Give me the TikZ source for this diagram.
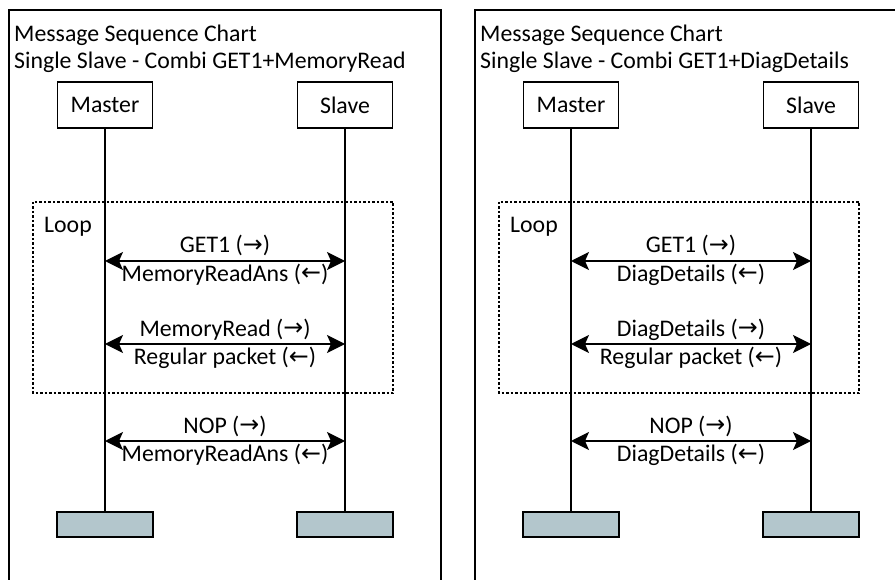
\documentclass[tikz,border=0pt]{standalone}
\usepackage{fontspec}
\setmainfont{Carlito}
\newfontfamily\arrowfont{DejaVu Sans}
\usetikzlibrary{arrows.meta,positioning}
\definecolor{endgrey}{HTML}{B3C6CC}
\newcommand{\msgR}{{\arrowfont\raisebox{0.5pt}{→}}}
\newcommand{\msgL}{{\arrowfont\raisebox{0.5pt}{←}}}

\begin{document}
\begin{tikzpicture}[x=1pt,y=-1pt,
	font=\fontsize{23.8}{27}\selectfont,
	actor/.style={draw, line width=1.3pt, minimum width=95pt, minimum height=46pt, inner sep=0pt},
	endbox/.style={draw, line width=1.6pt, fill=endgrey, minimum width=96pt, minimum height=25pt, inner sep=0pt},
	life/.style={line width=1.5pt},
	msg/.style={line width=1.4pt, {Stealth[length=18pt,width=18pt,inset=4pt]}-{Stealth[length=18pt,width=18pt,inset=4pt]}},
	lbl/.style={pos=.5, anchor=base, inner sep=0pt},
	loopbox/.style={line width=1.2pt, dash pattern=on 2.5pt off 2pt}]
	\useasboundingbox (0,0) rectangle (895,580);
	\clip (0,0) rectangle (895,580);

	% left chart
	\draw[line width=1.5pt] (9,10) rectangle (441,620);
	\node[anchor=base west, inner sep=0pt] (titA) at (14,42) {Message Sequence Chart};
	\node[anchor=base west, inner sep=0pt] (subA) at (14,69) {Single Slave - Combi GET1+MemoryRead};
	\node[actor] (mA) at (105,105) {Master};
	\node[actor] (sA) at (345,105) {Slave};
	\node[endbox] (mAend) at (105,524.5) {};
	\node[endbox] (sAend) at (345,524.5) {};
	\draw[life] (mA) -- (mAend);
	\draw[life] (sA) -- (sAend);
	\draw[loopbox] (33,202) rectangle (393,393);
	\node[anchor=base west, inner sep=0pt] (loopA) at (44,233) {Loop};
	\draw[msg] (mA |- 0,261) -- node[lbl,yshift=8pt] {GET1 (\msgR)} node[lbl,yshift=-20.5pt] {MemoryReadAns (\msgL)} (sA |- 0,261);
	\draw[msg] (mA |- 0,344) -- node[lbl,yshift=7.5pt] {MemoryRead (\msgR)} node[lbl,yshift=-20.5pt] {Regular packet (\msgL)} (sA |- 0,344);
	\draw[msg] (mA |- 0,441) -- node[lbl,yshift=8pt] {NOP (\msgR)} node[lbl,yshift=-20.5pt] {MemoryReadAns (\msgL)} (sA |- 0,441);

	% right chart
	\begin{scope}[xshift=466pt]
		\draw[line width=1.5pt] (9,10) rectangle (441,620);
		\node[anchor=base west, inner sep=0pt] (titB) at (14,42) {Message Sequence Chart};
		\node[anchor=base west, inner sep=0pt] (subB) at (14,69) {Single Slave - Combi GET1+DiagDetails};
		\node[actor] (mB) at (105,105) {Master};
		\node[actor] (sB) at (345,105) {Slave};
		\node[endbox] (mBend) at (105,524.5) {};
		\node[endbox] (sBend) at (345,524.5) {};
		\draw[life] (mB) -- (mBend);
		\draw[life] (sB) -- (sBend);
		\draw[loopbox] (33,202) rectangle (393,393);
		\node[anchor=base west, inner sep=0pt] (loopB) at (44,233) {Loop};
		\draw[msg] (mB |- 0,261) -- node[lbl,yshift=8pt] {GET1 (\msgR)} node[lbl,yshift=-20.5pt] {DiagDetails (\msgL)} (sB |- 0,261);
		\draw[msg] (mB |- 0,344) -- node[lbl,yshift=7.5pt] {DiagDetails (\msgR)} node[lbl,yshift=-20.5pt] {Regular packet (\msgL)} (sB |- 0,344);
		\draw[msg] (mB |- 0,441) -- node[lbl,yshift=8pt] {NOP (\msgR)} node[lbl,yshift=-20.5pt] {DiagDetails (\msgL)} (sB |- 0,441);
	\end{scope}
\end{tikzpicture}
\end{document}
